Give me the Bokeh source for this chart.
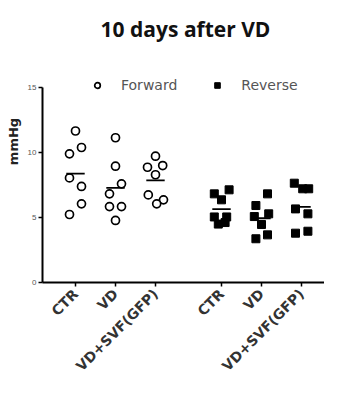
import numpy as np
from math import pi
from bokeh.plotting import figure
from bokeh.models import Range1d, FixedTicker, Legend, LegendItem, ColumnDataSource, Label
from bokeh.embed import file_html
from bokeh.resources import INLINE

# ---- data ----
title_text = "10 days after VD"
groups = ["CTR", "VD", "VD+SVF(GFP)"]
tick_labels = ["CTR", "VD", "VD+SVF(GFP)", "CTR", "VD", "VD+SVF(GFP)"]

fwd_ctr = [11.67, 9.91, 10.40, 8.06, 7.40, 6.06, 5.24]
fwd_vd = [11.15, 8.96, 7.60, 6.83, 5.85, 5.85, 4.78]
fwd_svf = [9.73, 8.88, 9.01, 8.30, 6.75, 6.37, 6.06]

rev_ctr = [6.83, 7.14, 6.37, 5.05, 5.05, 4.50, 4.62]
rev_vd = [6.83, 5.93, 5.08, 5.29, 4.47, 3.37, 3.67]
rev_svf = [7.65, 7.22, 7.22, 5.67, 5.29, 3.80, 3.95]

# ---- layout (category positions and horizontal spread of points) ----
pos = [1, 2, 3, 4.65, 5.65, 6.65]
spread = [
    [0, -0.15, 0.15, -0.15, 0.15, 0.15, -0.15],
    [0, 0, 0.15, -0.15, -0.15, 0.15, 0],
    [0, -0.2, 0.18, 0, -0.18, 0.2, 0.03],
    [-0.18, 0.19, 0, -0.18, 0.13, -0.08, 0.09],
    [0.15, -0.14, -0.18, 0.18, 0, -0.14, 0.15],
    [-0.18, 0.03, 0.18, -0.15, 0.16, -0.15, 0.16],
]

series = [fwd_ctr, fwd_vd, fwd_svf, rev_ctr, rev_vd, rev_svf]

def build(idx):
    xs, ys = [], []
    for i in idx:
        for v, o in zip(series[i], spread[i]):
            xs.append(pos[i] + o)
            ys.append(v)
    return ColumnDataSource(dict(x=xs, y=ys))

src_f = build([0, 1, 2])
src_r = build([3, 4, 5])

FH = 282
PX_PER_UNIT = 12.98
x0, x1 = 0.175, 7.225
p = figure(frame_width=282, frame_height=FH, output_backend="svg", toolbar_location=None,
           x_range=Range1d(x0, x1), y_range=Range1d(0, FH / PX_PER_UNIT),
           min_border_left=42, min_border_right=0, min_border_top=0,
           min_border_bottom=100)
p.outline_line_color = None
p.xgrid.visible = False
p.ygrid.visible = False
p.background_fill_color = "white"

p.add_layout(Label(x=(x0 + x1) / 2 + 0.05, y=254 / PX_PER_UNIT, text=title_text,
                   text_font="Open Sans", text_font_style="bold",
                   text_font_size="21px", text_align="center",
                   text_baseline="middle", text_color="#111111"))

rf = p.scatter("x", "y", source=src_f, marker="circle", size=8,
               fill_color="white", line_color="black", line_width=1.7)
rr = p.scatter("x", "y", source=src_r, marker="square", size=8,
               fill_color="black", line_color="black", line_width=1)

# mean lines
mx0, mx1, my = [], [], []
for i, s in enumerate(series):
    m = float(np.mean(s))
    mx0.append(pos[i] - 0.23)
    mx1.append(pos[i] + 0.23)
    my.append(m)
p.segment(x0=mx0, y0=my, x1=mx1, y1=my, line_color="black", line_width=1.8)

# axes
ya = p.yaxis[0]
ya.ticker = FixedTicker(ticks=[0, 5, 10, 15])
ya.bounds = (0, 15)
ya.axis_line_width = 2
ya.major_tick_line_width = 1.5
ya.major_tick_out = 4
ya.major_tick_in = 0
ya.minor_tick_out = 0
ya.minor_tick_in = 0
ya.major_label_standoff = 2
ya.major_label_text_font_size = "8px"
ya.major_label_text_color = "#555555"
ya.axis_label = "mmHg"
ya.axis_label_text_font = "DejaVu Sans"
ya.axis_label_text_font_style = "bold"
ya.axis_label_text_font_size = "13px"
ya.axis_label_text_color = "#222222"
ya.axis_label_standoff = 4

xa = p.xaxis[0]
xa.ticker = FixedTicker(ticks=pos)
xa.major_label_overrides = {pp: lab for pp, lab in zip(pos, tick_labels)}
xa.axis_line_width = 2
xa.major_tick_line_width = 1.5
xa.major_tick_out = 4
xa.major_tick_in = 0
xa.minor_tick_out = 0
xa.minor_tick_in = 0
xa.major_label_orientation = pi / 4
xa.major_label_text_font = "DejaVu Sans"
xa.major_label_text_font_style = "bold"
xa.major_label_text_font_size = "14px"
xa.major_label_text_color = "#333333"

legend = Legend(items=[LegendItem(label="Forward", renderers=[rf]),
                       LegendItem(label="Reverse", renderers=[rr])],
                orientation="horizontal", location=(48, 189),
                border_line_alpha=0, background_fill_alpha=0,
                padding=0, margin=0, spacing=33,
                glyph_width=14, glyph_height=14, label_standoff=17,
                label_text_font="DejaVu Sans",
                label_text_font_size="14px", label_text_color="#555555")
p.add_layout(legend)

open("out.html", "w").write(file_html(p, INLINE))
